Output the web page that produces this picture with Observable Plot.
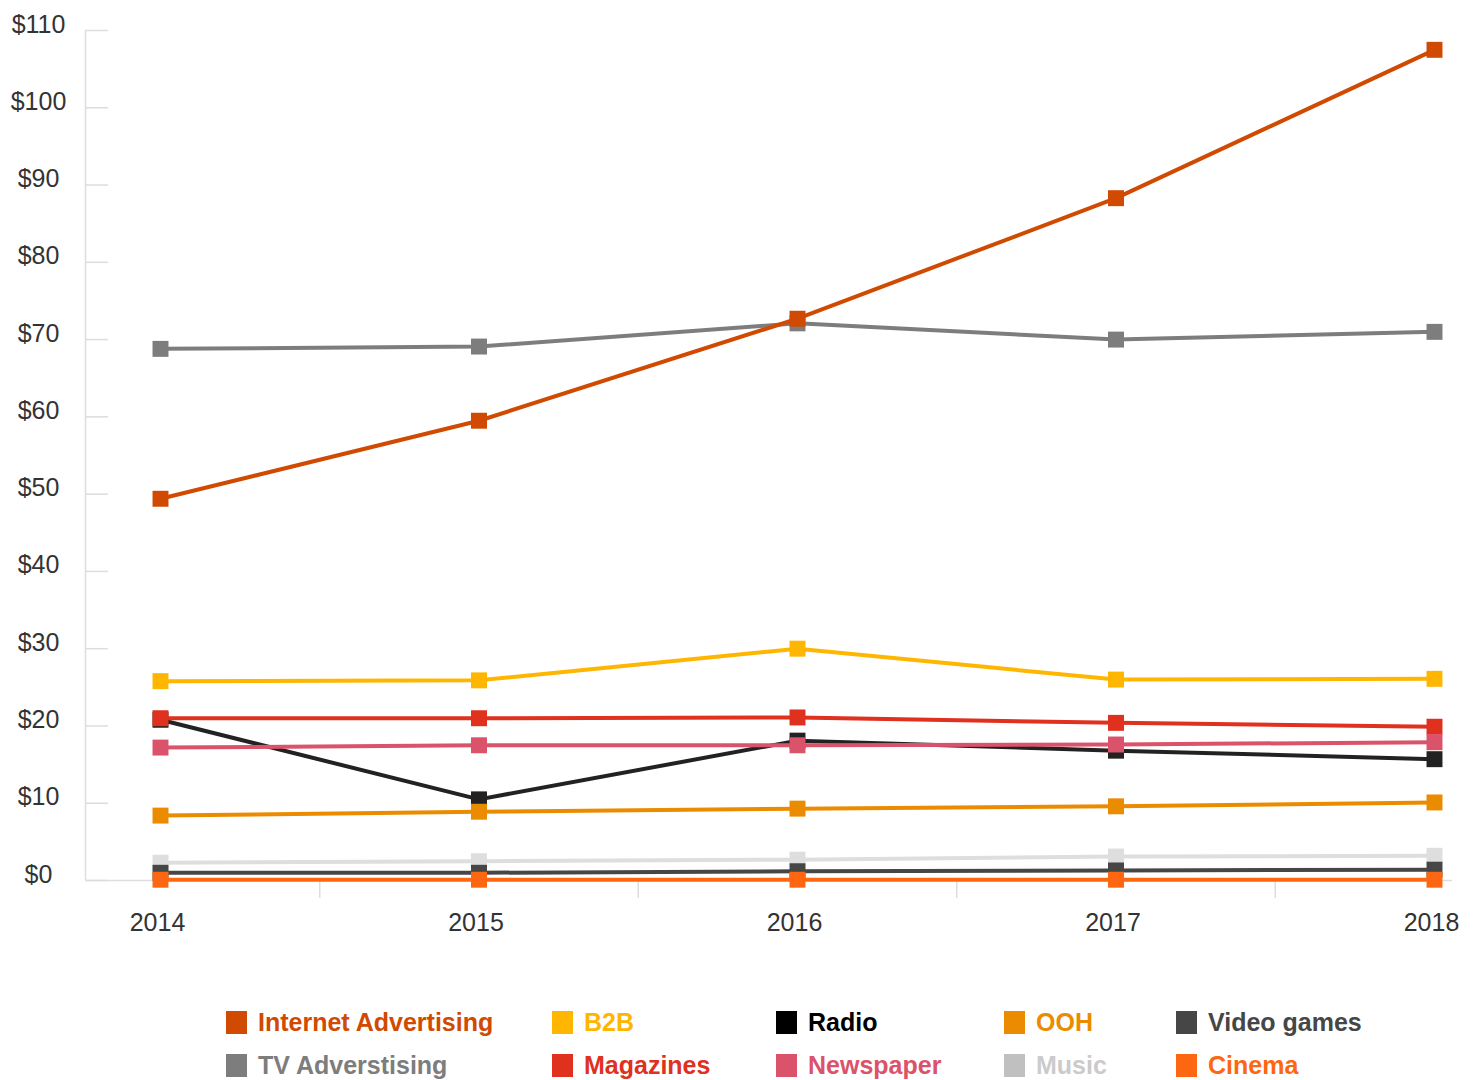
<!DOCTYPE html>
<html>
<head>
<meta charset="utf-8">
<script src="https://cdn.jsdelivr.net/npm/d3@7"></script>
<script src="https://cdn.jsdelivr.net/npm/@observablehq/plot@0.6"></script>
<style>
  html, body { margin: 0; padding: 0; background: #fff; }
  body { width: 1477px; height: 1080px; overflow: hidden; font-family: "Liberation Sans", Arial, Helvetica, sans-serif; }
  #legend {
    display: grid;
    grid-template-columns: 326px 224px 228px 172px 240px;
    grid-auto-rows: 43px;
    padding-left: 226px;
    margin-top: 20px;
  }
  .item { display: flex; align-items: center; height: 24px; font-weight: bold; font-size: 25px; }
  .sw { width: 21px; height: 23px; margin-right: 11px; flex: none; }
</style>
</head>
<body>
<div id="chart"></div>
<div id="legend"></div>
<script>
const years = [2014, 2015, 2016, 2017, 2018];
const yTicks = [0, 10, 20, 30, 40, 50, 60, 70, 80, 90, 100, 110];

const internetAdvertising = [49.4, 59.5, 72.7, 88.3, 107.5];
const tvAdvertising      = [68.8, 69.1, 72.1, 70.0, 71.0];
const b2b                = [25.8, 25.9, 30.0, 26.0, 26.1];
const magazines          = [21.0, 21.0, 21.1, 20.4, 19.9];
const radio              = [20.8, 10.5, 18.1, 16.8, 15.7];
const newspaper          = [17.2, 17.5, 17.5, 17.6, 17.9];
const ooh                = [8.4, 8.9, 9.3, 9.6, 10.1];
const music              = [2.3, 2.5, 2.7, 3.1, 3.2];
const videoGames         = [1.0, 1.0, 1.2, 1.3, 1.4];
const cinema             = [0.1, 0.1, 0.1, 0.1, 0.1];

// series: name, values, line color, legend swatch color, legend text color
const series = [
  {name: "TV Adverstising",      values: tvAdvertising,      color: "#7d7d7d", swatch: "#7d7d7d", text: "#7d7d7d"},
  {name: "Internet Advertising", values: internetAdvertising, color: "#d04a02", swatch: "#d04a02", text: "#d04a02"},
  {name: "Radio",                values: radio,              color: "#222222", swatch: "#000000", text: "#000000"},
  {name: "Magazines",            values: magazines,          color: "#e0301e", swatch: "#e0301e", text: "#e0301e"},
  {name: "Newspaper",            values: newspaper,          color: "#db536a", swatch: "#db536a", text: "#db536a"},
  {name: "B2B",                  values: b2b,                color: "#ffb600", swatch: "#ffb600", text: "#ffb600"},
  {name: "OOH",                  values: ooh,                color: "#eb8c00", swatch: "#eb8c00", text: "#eb8c00"},
  {name: "Music",                values: music,              color: "#dedede", swatch: "#c0c0c0", text: "#cbcbcb"},
  {name: "Video games",          values: videoGames,         color: "#464646", swatch: "#464646", text: "#464646"},
  {name: "Cinema",               values: cinema,             color: "#fe6711", swatch: "#fe6711", text: "#fe6711"}
];
const legendOrder = ["Internet Advertising", "B2B", "Radio", "OOH", "Video games",
                     "TV Adverstising", "Magazines", "Newspaper", "Music", "Cinema"];

const W = 1477, H = 990, mL = 85, mR = 25, mT = 30, mB = 110;
// years placed with padding: first year 75px right of axis, last year 18px before end
const pxPerYear = (1434 - 160) / 4;
const xMin = 2014 - 75 / pxPerYear;
const xMax = 2018 + 18 / pxPerYear;
const tickLen = 23 / pxPerYear;
const mids = years.slice(0, -1).map(y => y + 0.5);

const marks = [
  Plot.ruleY(yTicks, {x1: xMin, x2: xMin + tickLen, y: d => d, stroke: "#dddddd", strokeWidth: 1.5}),
  Plot.ruleX([xMin], {y1: 0, y2: 110, stroke: "#dddddd", strokeWidth: 1.5}),
  Plot.ruleY([0], {stroke: "#dddddd", strokeWidth: 1.5}),
  Plot.axisX({ticks: mids, tickSize: 18, tickFormat: () => "", label: null, stroke: "#dddddd", strokeWidth: 1.5}),
  Plot.axisX({ticks: years, tickSize: 0, tickPadding: 33, tickFormat: d => String(d), label: null, fontSize: 25, fill: "#333", dx: -3}),
  Plot.axisY({ticks: yTicks, tickSize: 0, tickPadding: 47, textAnchor: "middle", dy: -6, tickFormat: d => "$" + d, label: null, fontSize: 25, fill: "#333"})
];
for (const s of series) {
  const data = years.map((y, i) => ({year: y, value: s.values[i]}));
  marks.push(Plot.line(data, {x: "year", y: "value", stroke: s.color, strokeWidth: 4}));
  marks.push(Plot.dot(data, {x: "year", y: "value", symbol: "square", r: 9, fill: s.color}));
}

const chart = Plot.plot({
  width: W, height: H,
  marginLeft: mL, marginRight: mR, marginTop: mT, marginBottom: mB,
  style: {fontFamily: '"Liberation Sans", Arial, Helvetica, sans-serif', background: "#fff"},
  x: {type: "linear", domain: [xMin, xMax], axis: null, label: null},
  y: {domain: [0, 110], axis: null, label: null},
  marks
});
document.getElementById("chart").appendChild(chart);

const legend = document.getElementById("legend");
for (const name of legendOrder) {
  const s = series.find(d => d.name === name);
  const item = document.createElement("div");
  item.className = "item";
  const sw = document.createElement("span");
  sw.className = "sw";
  sw.style.background = s.swatch;
  const label = document.createElement("span");
  label.textContent = s.name;
  label.style.color = s.text;
  item.appendChild(sw);
  item.appendChild(label);
  legend.appendChild(item);
}
</script>
</body>
</html>
